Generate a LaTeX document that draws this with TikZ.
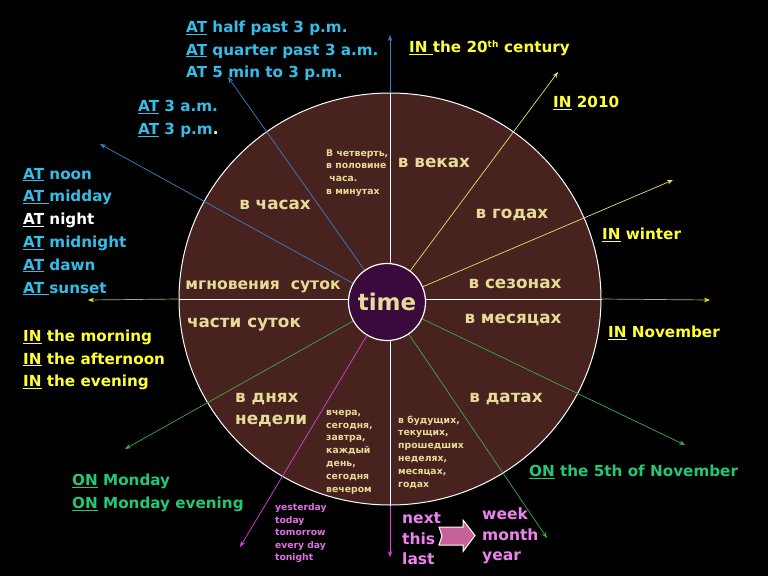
\documentclass[tikz,border=0pt]{standalone}
\usepackage{fontspec}
\setmainfont{DejaVu Sans}
\usetikzlibrary{arrows.meta,shapes.geometric}
\definecolor{atblue}{HTML}{35BDE8}
\definecolor{inyel}{HTML}{FFFF33}
\definecolor{ongreen}{HTML}{22C878}
\definecolor{khaki}{HTML}{E6DC98}
\definecolor{magT}{HTML}{E070E8}
\definecolor{pinkT}{HTML}{EE82EE}
\definecolor{bigfill}{HTML}{47221F}
\definecolor{innerfill}{HTML}{3A0A3C}
\definecolor{bline}{HTML}{3A80C8}
\definecolor{yline}{HTML}{E8E070}
\definecolor{oline}{HTML}{B0B050}
\definecolor{gline}{HTML}{40A848}
\definecolor{mline}{HTML}{E040E0}
\definecolor{arrowfill}{HTML}{C8609A}
\tikzset{
  lab/.style={anchor=west, align=left, inner sep=0pt, yshift=-2pt, font=\bfseries\fontsize{15.2}{22.8}\selectfont},
  circtext/.style={text=khaki, inner sep=0pt, yshift=-2pt, font=\bfseries\fontsize{16.8}{22.6}\selectfont},
  smalltext/.style={text=khaki, anchor=west, align=left, inner sep=0pt, font=\bfseries\fontsize{9.3}{12.8}\selectfont},
  magsmall/.style={text=magT, anchor=west, align=left, inner sep=0pt, font=\bfseries\fontsize{9.2}{12.5}\selectfont},
  pinklab/.style={text=pinkT, anchor=west, align=left, inner sep=0pt, yshift=-1pt, font=\bfseries\fontsize{15.5}{20.5}\selectfont},
  ray/.style={line width=0.7pt, -{Stealth[length=6pt,width=4.5pt]}},
  yray/.style={line width=0.7pt, -{Stealth[length=6pt,width=4.5pt,color=yellow]}},
}
\begin{document}
\begin{tikzpicture}[x=1pt,y=-1pt]
\fill[black] (0,0) rectangle (768,576);
\useasboundingbox (0,0) rectangle (768,576);

% dial
\node[ellipse, draw=white, line width=1pt, fill=bigfill, minimum width=422pt, minimum height=412pt, inner sep=0pt] (dial) at (390,299) {};
\draw[white, line width=1pt] (dial.north) -- (dial.south);
\draw[white, line width=1pt] (dial.west) -- (dial.east);

% tips
\coordinate (tN) at (390,35);
\coordinate (tS) at (390,557);
\coordinate (tW) at (88,300);
\coordinate (tE) at (710,300);
\coordinate (t1) at (100,144);
\coordinate (t2) at (228,77);
\coordinate (t3) at (558,72);
\coordinate (t4) at (673,180);
\coordinate (t5) at (685,445);
\coordinate (t6) at (547,538);
\coordinate (t7) at (125,449);
\coordinate (t8) at (240,547);

\draw[ray, bline] (dial.north) -- (tN);
\draw[ray, mline] (dial.south) -- (tS);
\draw[yray, oline] (dial.west) -- (tW);
\draw[yray, oline] (dial.east) -- (tE);

% center
\node[circle, draw=white, line width=1.2pt, fill=innerfill, minimum size=77pt, inner sep=0pt, text=khaki, font=\bfseries\fontsize{23}{23}\selectfont] (tc) at (387,302) {time};

\draw[ray, bline] (tc) -- (t1);
\draw[ray, bline] (tc) -- (t2);
\draw[ray, yline] (tc) -- (t3);
\draw[ray, yline] (tc) -- (t4);
\draw[ray, gline] (tc) -- (t5);
\draw[ray, gline] (tc) -- (t6);
\draw[ray, gline] (tc) -- (t7);
\draw[ray, mline] (tc) -- (t8);

% texts inside the dial
\node[circtext] (vek) at (434,161) {в веках};
\node[circtext] (chas) at (275,203) {в часах};
\node[circtext] (god) at (512,213) {в годах};
\node[circtext] (sez) at (515,282) {в сезонах};
\node[circtext] (mes) at (513,318) {в месяцах};
\node[circtext, font=\bfseries\fontsize{15.6}{20}\selectfont] (mgn) at (263,285) {мгновения\ \ суток};
\node[circtext] (chast) at (244,323) {части суток};
\node[circtext] (dat) at (506,397) {в датах};
\node[circtext, anchor=west, align=left] (dni) at (235,408) {в днях\\недели};
\node[smalltext] (chetv) at (326,173) {В четверть,\\в половине\\\ часа.\\в минутах};
\node[smalltext] (vchera) at (326,452) {вчера,\\сегодня,\\завтра,\\каждый\\день,\\сегодня\\вечером};
\node[smalltext] (budu) at (398,452) {в будущих,\\текущих,\\прошедших\\неделях,\\месяцах,\\годах};

% outer labels
\node[lab, text=atblue] (atclock) at (186,49) {\underline{AT} half past 3 p.m.\\\underline{AT} quarter past 3 a.m.\\AT 5 min to 3 p.m.};
\node[lab, text=atblue] (athour) at (138,117) {\underline{AT} 3 a.m.\\\underline{AT} 3 p.m\textcolor{white}{.}};
\node[lab, text=atblue] (atday) at (23,229.5) {\underline{AT} noon\\\underline{AT\ }midday\\\textcolor{white}{\underline{AT} night}\\\underline{AT} midnight\\\underline{AT} dawn\\\underline{AT\ }sunset};
\node[lab, text=inyel] (inpart) at (23,358) {\underline{IN} the morning\\\underline{IN} the afternoon\\\underline{IN} the evening};
\node[lab, text=ongreen] (onday) at (72,491) {\underline{ON} Monday\\\underline{ON} Monday evening};
\node[lab, text=inyel] (incent) at (409,46) {\underline{IN\ }the 20\textsuperscript{\fontsize{9}{9}\selectfont th} century};
\node[lab, text=inyel] (inyear) at (553,101) {\underline{IN} 2010};
\node[lab, text=inyel] (inseas) at (602,233) {\underline{IN} winter};
\node[lab, text=inyel] (inmon) at (608,331) {\underline{IN} November};
\node[lab, text=ongreen] (ondate) at (529,470) {\underline{ON} the 5th of November};
\node[magsmall] (yest) at (275,533) {yesterday\\today\\tomorrow\\every day\\tonight};
\node[pinklab] (nxt) at (402,538) {next\\this\\last};
\node[pinklab] (wmy) at (482,535) {week\\month\\year};

% block arrow
\draw[white, line width=1pt, fill=arrowfill] (439,527) -- (463,527) -- (463,520) -- (475,535.5) -- (463,551.5) -- (463,545) -- (439,545) -- (442,536) -- cycle;
\end{tikzpicture}
\end{document}
